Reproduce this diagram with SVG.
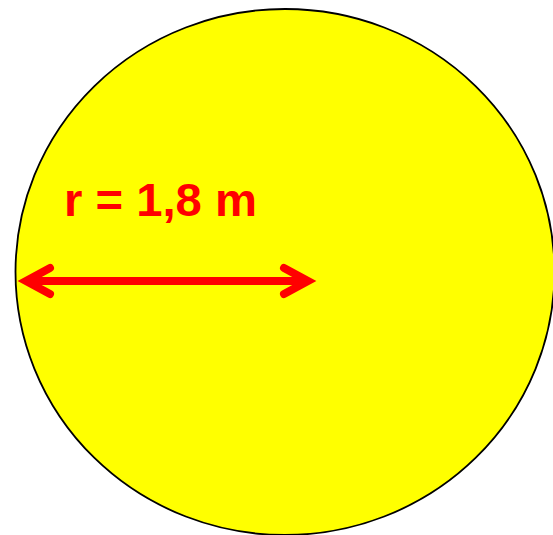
<svg xmlns="http://www.w3.org/2000/svg" width="553" height="535" viewBox="0 0 553 535">
<style>
.disc{fill:#FFFF00;stroke:#000;stroke-width:1.8}
.arr{fill:none;stroke:#FF0000;stroke-width:8}
.lbl{font-family:"Liberation Sans",Arial,sans-serif;font-weight:bold;font-size:47px;fill:#FF0000}
</style>
<rect width="553" height="535" fill="#fff"/>
<g id="circle">
<ellipse class="disc" cx="285" cy="272" rx="269.5" ry="263"/>
</g>
<g id="label">
<text class="lbl" x="64" y="215.5" textLength="193" lengthAdjust="spacingAndGlyphs">r = 1,8 m</text>
</g>
<g id="connectors">
<path class="arr" d="M26,281 H308"/>
<path class="arr" d="M50,268 L26,281 L50,294" stroke-linecap="round" stroke-linejoin="miter"/>
<path class="arr" d="M284,268 L308,281 L284,294" stroke-linecap="round" stroke-linejoin="miter"/>
</g>
</svg>
